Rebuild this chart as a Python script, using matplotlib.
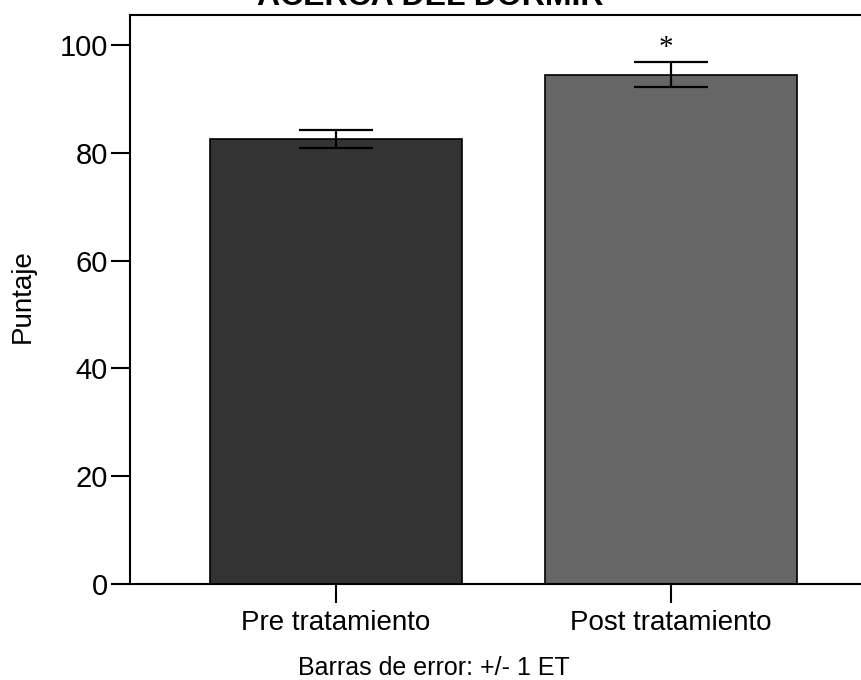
import matplotlib
matplotlib.use('Agg')
import matplotlib.pyplot as plt
import numpy as np

plt.rcParams['font.family'] = ['Liberation Sans', 'DejaVu Sans']

categories = ['Pre tratamiento', 'Post tratamiento']
means = [82.6, 94.5]
errors = [1.6, 2.3]
bar_colors = ['#333333', '#666666']
yticks = [0, 20, 40, 60, 80, 100]

fig = plt.figure(figsize=(8.61, 6.8), dpi=100)
ax = fig.add_axes([130 / 861, 96 / 680, 747 / 861, 569 / 680])

x = np.arange(len(categories))
ax.bar(x, means, width=0.75, color=bar_colors, edgecolor='black', linewidth=1.2, zorder=2)
ax.errorbar(x, means, yerr=errors, fmt='none', ecolor='black', elinewidth=1.6,
            capsize=26.5, capthick=1.6, zorder=3)

# significance mark on the post bar
ax.text(x[1] - 0.015, means[1] + errors[1] + 2.6, '*', ha='center', va='center',
        fontsize=21, family='Liberation Serif')

ax.set_xlim(-0.615, 1.615)
ax.set_ylim(0, 105.6)
ax.set_yticks(yticks)
ax.set_xticks(x)
ax.set_xticklabels(categories, fontsize=20)
ax.tick_params(axis='y', labelsize=21, length=14, width=1.5, pad=2)
ax.tick_params(axis='x', length=14, width=1.5, pad=5)
for s in ax.spines.values():
    s.set_linewidth(1.5)

fig.text(23 / 861, 1 - 296 / 680, 'Puntaje', rotation=90, ha='center', va='center', fontsize=20)
fig.text(0.5, 1 - 5 / 680, 'ACERCA DEL DORMIR', ha='center', va='baseline',
         fontsize=23, fontweight='bold')
fig.text(434 / 861, 5 / 680, 'Barras de error: +/- 1 ET', ha='center', va='baseline', fontsize=18)

fig.savefig('out.png', dpi=100)
